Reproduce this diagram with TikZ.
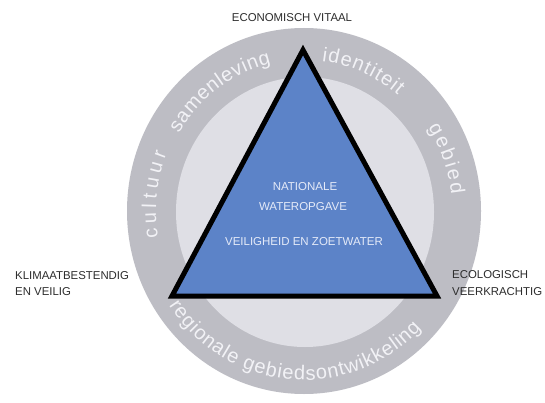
\documentclass[tikz,border=0pt]{standalone}
\usepackage{fontspec}
\setmainfont{Liberation Sans}
\usetikzlibrary{decorations.text,calc}
\definecolor{ringgray}{RGB}{189,189,196}
\definecolor{innergray}{RGB}{223,223,229}
\definecolor{triblue}{RGB}{92,131,200}
\definecolor{tritext}{RGB}{228,234,248}
\definecolor{ringwhite}{RGB}{242,242,246}
\definecolor{labeltext}{RGB}{45,45,45}
\newcommand\ringfnt{\fontsize{20}{22}\selectfont}
\tikzset{
  outerlabel/.style={font=\fontsize{11.4}{13}\selectfont, text=labeltext, inner sep=0pt},
  innerlabel/.style={font=\fontsize{11.5}{13}\selectfont, text=tritext, inner sep=0pt, anchor=base},
  ringtext/.style={decorate, decoration={text along path, text align={fit to path}, text color=ringwhite}},
}
\begin{document}
\begin{tikzpicture}[x=1pt,y=1pt]
\useasboundingbox[fill=white] (0,0) rectangle (545,402);
\coordinate (C) at (304,191);
\coordinate (Ci) at (305,190);
% ring and inner disc
\fill[ringgray] (C) ellipse [x radius=177pt, y radius=183pt];
\fill[innergray] (Ci) ellipse [x radius=129pt, y radius=135pt];
% ring texts
\path[ringtext, decoration={text={|\ringfnt|cultuur}}]
  ([shift={(C)}]190:148pt and 153pt) arc[start angle=190, end angle=158, x radius=148pt, y radius=153pt];
\path[ringtext, decoration={text={|\ringfnt|samenleving}}]
  ([shift={(C)}]149:146pt and 151pt) arc[start angle=149, end angle=103, x radius=146pt, y radius=151pt];
\path[ringtext, decoration={text={|\ringfnt|identiteit}}]
  ([shift={(C)}]83:146pt and 151pt) arc[start angle=83, end angle=50, x radius=146pt, y radius=151pt];
\path[ringtext, decoration={text={|\ringfnt|gebied}}]
  ([shift={(C)}]33:148pt and 153pt) arc[start angle=33, end angle=6, x radius=148pt, y radius=153pt];
\path[ringtext, decoration={text={|\ringfnt|regionale gebiedsontwikkeling}}]
  ([shift={(C)}]214:163pt and 169pt) arc[start angle=214, end angle=316, x radius=163pt, y radius=169pt];
% triangle
\coordinate (A) at (303,352);
\coordinate (L) at (172,106);
\coordinate (R) at (437,106);
\draw[fill=triblue, line width=5pt, line join=miter] (A) -- (L) -- (R) -- cycle;
% triangle texts
\node[innerlabel] (nat) at (305,212) {NATIONALE};
\node[innerlabel] (wat) at (303,192) {WATEROPGAVE};
\node[innerlabel] (vei) at (304,157) {VEILIGHEID EN ZOETWATER};
% outer labels
\node[outerlabel, anchor=base] (eco) at (292,380) {ECONOMISCH VITAAL};
\node[outerlabel, anchor=base west] (kl1) at (15,123) {KLIMAATBESTENDIG};
\node[outerlabel, anchor=base west] (kl2) at (15,107) {EN VEILIG};
\node[outerlabel, anchor=base west] (ec1) at (452,124) {ECOLOGISCH};
\node[outerlabel, anchor=base west] (ec2) at (452,107) {VEERKRACHTIG};
\end{tikzpicture}
\end{document}
